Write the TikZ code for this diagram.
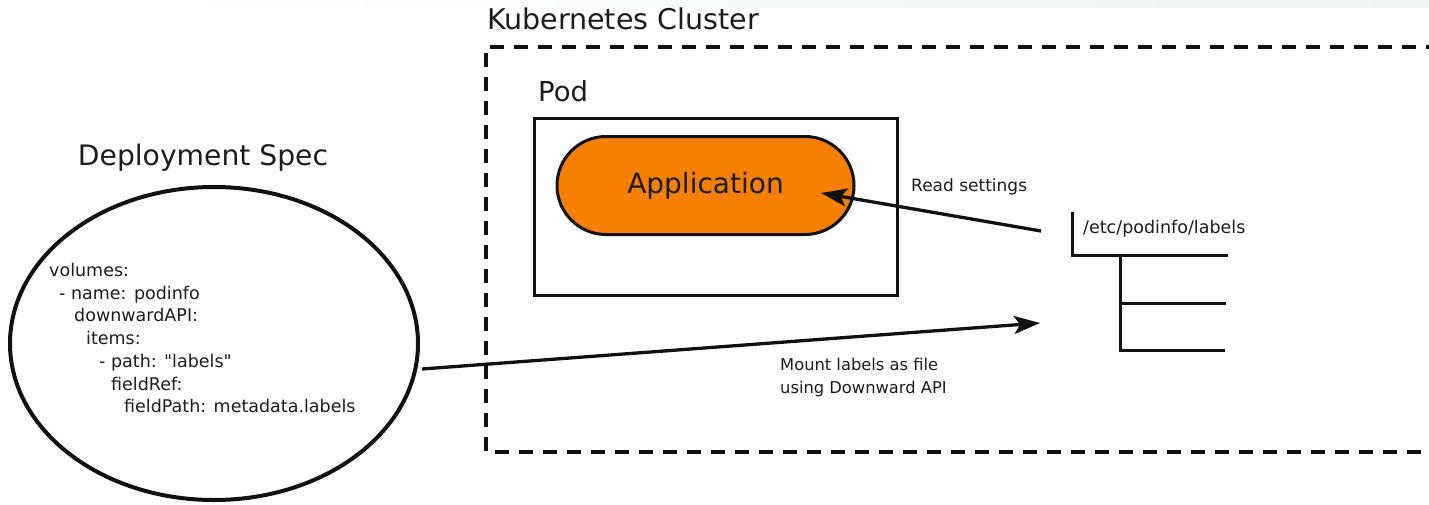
\documentclass[tikz,border=0pt]{standalone}
\usepackage{fontspec}
\setmainfont{DejaVu Sans}
\newfontfamily\plainfont{DejaVu Sans}
\usetikzlibrary{arrows.meta,shapes.geometric}
\definecolor{appfill}{HTML}{F77F00}
\definecolor{ink}{HTML}{111111}
\definecolor{txt}{HTML}{1C1C1C}
\definecolor{band}{HTML}{EAF4F1}
\tikzset{
  x=1pt, y=-1pt,
  txtlbl/.style={inner sep=0pt, text=txt},
  flow/.style={draw=ink, line width=3.3pt, -{Stealth[length=26pt,width=18pt,inset=6pt]}},
  treeline/.style={draw=ink, line width=3pt},
}
\begin{document}
\begin{tikzpicture}
\useasboundingbox (0,0) rectangle (1429,504);
\clip (0,0) rectangle (1429,504);
\shade[left color=white, right color=band] (150,0) rectangle (1429,7);
% cluster
\node[txtlbl, font=\fontsize{28.5}{32}\selectfont, anchor=west] (cltitle) at (487,19) {Kubernetes Cluster};
\draw[ink, line width=3.5pt, dash pattern=on 14pt off 10pt] (1440,47) -- (486,47) -- (486,452) -- (1440,452);
% pod
\node[txtlbl, font=\fontsize{27.5}{30}\selectfont, anchor=west] (podtitle) at (538,91) {Pod};
\node[draw=ink, line width=3pt, minimum width=363pt, minimum height=177pt, inner sep=0pt] (pod) at (715.5,206.5) {};
\node[draw=ink, line width=3pt, fill=appfill, rounded corners=49pt, minimum width=297pt, minimum height=98pt, inner sep=0pt, text=txt, font=\fontsize{28}{30}\selectfont] (app) at (705.5,185.5) {Application};
% deployment spec
\node[txtlbl, font=\fontsize{28.2}{30}\selectfont] (dstitle) at (203,158) {Deployment Spec};
\node[draw=ink, line width=4pt, ellipse, minimum width=408pt, minimum height=313pt, inner sep=0pt] (spec) at (214,343.5) {};
\node[txtlbl, anchor=north west, align=left, font=\plainfont\fontsize{17.5}{22.7}\selectfont] (code) at (49,263) {%
volumes:\\
\hspace*{10pt}- name: podinfo\\
\hspace*{25pt}downwardAPI:\\
\hspace*{37pt}items:\\
\hspace*{50pt}- path: "labels"\\
\hspace*{62pt}fieldRef:\\
\hspace*{75pt}fieldPath: metadata.labels};
% file tree
\node[txtlbl, anchor=west, font=\fontsize{17.5}{20}\selectfont] (file) at (1083,229) {/etc/podinfo/labels};
\coordinate (t0) at (1072,212);
\coordinate (t1) at (1072,255);
\coordinate (t2) at (1228,255);
\coordinate (t3) at (1120,255);
\coordinate (t4) at (1120,350);
\coordinate (t5) at (1120,303);
\coordinate (t6) at (1226,303);
\coordinate (t7) at (1225,350);
\draw[treeline] (t0) -- (t1) -- (t2);
\draw[treeline] (t3) -- (t4) -- (t7);
\draw[treeline] (t5) -- (t6);
% arrows
\coordinate (rs) at (1041,231);
\coordinate (rend) at (821,193);
\coordinate (mstart) at (422,369);
\coordinate (ms) at (1040,323);
\draw[flow] (rs) -- (rend);
\draw[flow] (mstart) -- (ms);
\node[txtlbl, anchor=west, font=\fontsize{17}{20}\selectfont] (readlbl) at (911,187) {Read settings};
\node[txtlbl, anchor=north west, align=left, font=\fontsize{16.3}{23}\selectfont] (mountlbl) at (780,358) {Mount labels as file\\using Downward API};
\end{tikzpicture}
\end{document}
